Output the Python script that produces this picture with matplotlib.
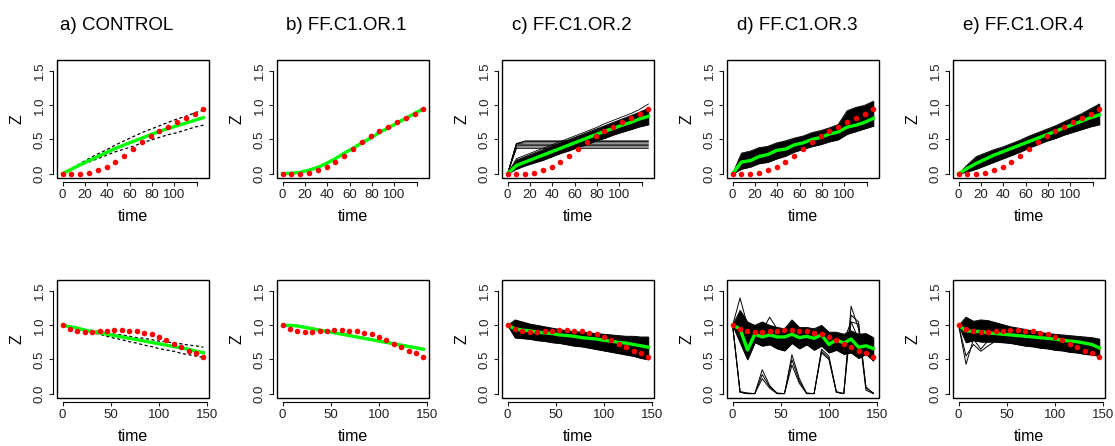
import matplotlib
matplotlib.use('Agg')
import matplotlib.pyplot as plt
from matplotlib.patches import Rectangle

plt.rcParams['font.family'] = ['Liberation Sans', 'DejaVu Sans']

# --- data ---
titles = ['a) CONTROL', 'b) FF.C1.OR.1', 'c) FF.C1.OR.2', 'd) FF.C1.OR.3', 'e) FF.C1.OR.4']

# top row (17 time points) / bottom row (20 time points)
t_top = [0, 7.9, 15.8, 23.6, 31.5, 39.4, 47.3, 55.1, 63, 70.9, 78.8, 86.6, 94.5, 102.4, 110.3, 118.1, 126]
t_bot = [0, 7.7, 15.4, 23, 30.7, 38.4, 46.1, 53.8, 61.5, 69.2, 76.8, 84.5, 92.2, 99.9, 107.6, 115.3,
         122.9, 130.6, 138.3, 146]

obs_top = [0, 0, 0, 0.01, 0.05, 0.10, 0.17, 0.26, 0.36, 0.46, 0.55, 0.62, 0.69, 0.75, 0.82, 0.88, 0.95]
obs_bot = [1.0, 0.95, 0.91, 0.90, 0.90, 0.91, 0.92, 0.93, 0.93, 0.92, 0.91, 0.89, 0.87, 0.83, 0.78,
           0.73, 0.68, 0.63, 0.59, 0.53]

# a) control: mean and dashed bounds
a_top_mean = [0, 0.065, 0.13, 0.19, 0.25, 0.31, 0.37, 0.42, 0.47, 0.52, 0.57, 0.62, 0.66, 0.70, 0.74, 0.78, 0.82]
a_top_hi = [0, 0.07, 0.15, 0.22, 0.29, 0.35, 0.42, 0.48, 0.54, 0.60, 0.65, 0.70, 0.75, 0.80, 0.84, 0.89, 0.93]
a_top_lo = [0, 0.06, 0.12, 0.17, 0.22, 0.27, 0.32, 0.36, 0.40, 0.45, 0.49, 0.53, 0.57, 0.60, 0.64, 0.68, 0.71]
a_bot_mean = [1.0, 0.98, 0.96, 0.93, 0.91, 0.89, 0.87, 0.85, 0.83, 0.81, 0.79, 0.77, 0.75, 0.73, 0.71,
              0.69, 0.67, 0.65, 0.62, 0.60]
a_bot_hi = [1.0, 0.98, 0.96, 0.94, 0.92, 0.91, 0.89, 0.87, 0.86, 0.84, 0.82, 0.81, 0.79, 0.77, 0.76,
            0.74, 0.73, 0.71, 0.70, 0.68]
a_bot_lo = [1.0, 0.97, 0.95, 0.92, 0.89, 0.87, 0.84, 0.81, 0.79, 0.76, 0.74, 0.71, 0.69, 0.66, 0.64,
            0.62, 0.59, 0.57, 0.55, 0.53]

# b) ensemble is very tight around the mean
b_top_mean = [0, 0.005, 0.02, 0.05, 0.09, 0.15, 0.22, 0.30, 0.37, 0.45, 0.52, 0.60, 0.67, 0.74, 0.81, 0.88, 0.95]
b_top_hi = [0, 0.01, 0.03, 0.065, 0.105, 0.165, 0.235, 0.315, 0.385, 0.465, 0.535, 0.615, 0.685, 0.755,
            0.825, 0.895, 0.965]
b_bot_mean = [1.0, 1.0, 0.99, 0.97, 0.95, 0.93, 0.91, 0.89, 0.87, 0.85, 0.83, 0.81, 0.79, 0.77, 0.75,
              0.73, 0.71, 0.69, 0.67, 0.65]
b_bot_hi = [1.0, 1.01, 1.005, 0.985, 0.965, 0.945, 0.925, 0.905, 0.885, 0.865, 0.845, 0.825, 0.805, 0.785,
            0.765, 0.745, 0.725, 0.705, 0.685, 0.665]

# c) ensemble envelope, mean, outliers
c_top_mean = [0, 0.12, 0.17, 0.22, 0.27, 0.32, 0.37, 0.42, 0.47, 0.52, 0.57, 0.62, 0.66, 0.71, 0.75, 0.80, 0.84]
c_top_hi = [0, 0.20, 0.25, 0.30, 0.35, 0.40, 0.45, 0.50, 0.55, 0.60, 0.65, 0.70, 0.75, 0.80, 0.85, 0.90, 0.96]
c_top_lo = [0, 0.07, 0.12, 0.16, 0.20, 0.25, 0.30, 0.34, 0.39, 0.43, 0.48, 0.52, 0.57, 0.61, 0.65, 0.69, 0.72]
c_top_out = [0, 0.22, 0.27, 0.32, 0.37, 0.42, 0.47, 0.52, 0.57, 0.62, 0.67, 0.73, 0.78, 0.83, 0.88, 0.94, 1.02]
c_top_flat = [0.37, 0.39, 0.41, 0.43, 0.45, 0.47, 0.48]
c_bot_mean = [1.0, 0.95, 0.93, 0.92, 0.90, 0.89, 0.88, 0.86, 0.85, 0.84, 0.82, 0.81, 0.80, 0.78, 0.77,
              0.75, 0.74, 0.72, 0.70, 0.68]
c_bot_hi = [1.0, 1.08, 1.05, 1.02, 1.0, 0.98, 0.96, 0.94, 0.92, 0.91, 0.90, 0.89, 0.88, 0.87, 0.86,
            0.85, 0.84, 0.84, 0.83, 0.83]
c_bot_lo = [1.0, 0.82, 0.81, 0.80, 0.78, 0.77, 0.75, 0.74, 0.72, 0.70, 0.69, 0.67, 0.65, 0.63, 0.61,
            0.59, 0.57, 0.55, 0.52, 0.50]

# d)
d_top_mean = [0, 0.17, 0.19, 0.25, 0.28, 0.34, 0.36, 0.42, 0.45, 0.50, 0.53, 0.58, 0.61, 0.68, 0.71, 0.75, 0.81]
d_top_hi = [0, 0.30, 0.33, 0.38, 0.40, 0.45, 0.48, 0.52, 0.55, 0.60, 0.63, 0.67, 0.72, 0.92, 0.97, 1.00, 1.06]
d_top_lo = [0, 0.07, 0.10, 0.15, 0.17, 0.22, 0.26, 0.32, 0.36, 0.40, 0.43, 0.47, 0.50, 0.58, 0.62, 0.66, 0.70]
d_bot_mean = [1.0, 0.95, 0.64, 0.87, 0.83, 0.86, 0.83, 0.83, 0.87, 0.82, 0.84, 0.81, 0.86, 0.72, 0.79,
              0.74, 0.80, 0.68, 0.70, 0.66]
d_bot_hi = [1.0, 1.22, 1.05, 1.0, 1.05, 1.0, 0.97, 0.95, 1.08, 0.97, 0.97, 0.95, 1.0, 0.90, 0.90,
            0.87, 0.92, 0.87, 0.88, 0.82]
d_bot_lo = [1.0, 0.75, 0.50, 0.75, 0.70, 0.72, 0.66, 0.63, 0.74, 0.66, 0.72, 0.64, 0.70, 0.60, 0.64,
            0.58, 0.60, 0.52, 0.58, 0.48]
d_bot_out = [
    [1.0, 1.40, 1.0, 0.97, 0.92, 1.12, 0.95, 0.85, 1.0, 0.90, 0.93, 0.85, 0.95, 0.80, 0.85, 0.78, 1.05, 0.80, 0.83, 0.75],
    [1.0, 0.02, 0.0, 0.0, 0.35, 0.12, 0.0, 0.0, 0.57, 0.22, 0.0, 0.0, 0.65, 0.55, 0.03, 0.0, 1.05, 1.02, 0.10, 0.0],
    [1.0, 0.02, 0.0, 0.0, 0.22, 0.08, 0.0, 0.0, 0.42, 0.15, 0.0, 0.0, 0.60, 0.50, 0.02, 0.0, 1.28, 0.95, 0.05, 0.0],
    [1.0, 0.03, 0.01, 0.0, 0.28, 0.10, 0.01, 0.0, 0.50, 0.18, 0.01, 0.0, 0.62, 0.52, 0.02, 0.0, 1.15, 1.05, 0.08, 0.01],
]

# e)
e_top_mean = [0, 0.08, 0.15, 0.21, 0.27, 0.32, 0.37, 0.42, 0.47, 0.52, 0.57, 0.62, 0.67, 0.72, 0.77, 0.82, 0.86]
e_top_hi = [0, 0.13, 0.25, 0.30, 0.35, 0.39, 0.44, 0.49, 0.55, 0.60, 0.65, 0.70, 0.76, 0.82, 0.88, 0.95, 1.02]
e_top_lo = [0, 0.03, 0.07, 0.12, 0.17, 0.22, 0.27, 0.32, 0.38, 0.43, 0.48, 0.52, 0.57, 0.61, 0.65, 0.69, 0.72]
e_bot_mean = [1.0, 0.92, 0.91, 0.91, 0.89, 0.88, 0.87, 0.86, 0.85, 0.84, 0.83, 0.82, 0.81, 0.80, 0.78,
              0.77, 0.76, 0.74, 0.72, 0.67]
e_bot_hi = [1.0, 1.12, 1.06, 1.08, 1.07, 1.04, 1.01, 0.98, 0.96, 0.94, 0.92, 0.90, 0.88, 0.87, 0.86,
            0.85, 0.84, 0.83, 0.82, 0.80]
e_bot_lo = [1.0, 0.75, 0.78, 0.76, 0.76, 0.76, 0.75, 0.74, 0.72, 0.70, 0.69, 0.67, 0.66, 0.64, 0.63,
            0.61, 0.60, 0.58, 0.57, 0.55]
e_bot_out = [
    [1.0, 0.43, 0.80, 0.65, 0.78, 0.80],
    [1.0, 0.55, 0.72, 0.62, 0.70, 0.77],
]

# --- layout (pixels of a 1115x446 figure) ---
W, H = 1115, 446
lefts = [57, 277, 502, 727, 953]
title_x = [117, 346, 572, 797, 1023]
tops = [60, 280]
aw, ah = 152, 118

fig = plt.figure(figsize=(W / 100, H / 100), dpi=100)


def make_axes(left, top, bottom_row):
    ax = fig.add_axes([left / W, 1 - (top + ah) / H, aw / W, ah / H])
    xmax = t_bot[-1] if bottom_row else t_top[-1]
    ax.set_xlim(-0.04 * xmax, 1.04 * xmax)
    ax.set_ylim(-0.064, 1.664)
    ax.add_patch(Rectangle((0, 0), 1, 1, transform=ax.transAxes, fill=False,
                           lw=1.0, ec='black', clip_on=False, zorder=5))
    for s in ['top', 'right']:
        ax.spines[s].set_visible(False)
    for s in ['left', 'bottom']:
        ax.spines[s].set_position(('outward', 3))
        ax.spines[s].set_linewidth(0.8)
    if bottom_row:
        ax.set_xticks([0, 50, 100, 150], ['0', '50', '100', '150'])
        ax.spines['bottom'].set_bounds(0, 150)
    else:
        ax.set_xticks([0, 20, 40, 60, 80, 100, 120], ['0', '20', '40', '60', '80', '100', ''])
        ax.spines['bottom'].set_bounds(0, 120)
    ax.set_yticks([0, 0.5, 1.0, 1.5], ['0.0', '0.5', '1.0', '1.5'], rotation=90, va='center')
    ax.spines['left'].set_bounds(0, 1.5)
    ax.tick_params(direction='out', length=3, width=0.8, labelsize=9.5, pad=2, colors='#222222')
    ax.annotate('time', xy=(0.5, 0), xycoords='axes fraction', xytext=(0, -28),
                textcoords='offset points', ha='center', va='center', fontsize=11.5)
    ax.annotate('Z', xy=(0, 0.5), xycoords='axes fraction', xytext=(-29, 0),
                textcoords='offset points', ha='center', va='center', fontsize=11.5, rotation=90)
    return ax


def band(ax, t, lo, hi):
    ax.fill_between(t, lo, hi, color='black', lw=0.6)
    ax.plot(t, lo, color='black', lw=0.6)
    ax.plot(t, hi, color='black', lw=0.6)


def finish(ax, t, mean, obs):
    ax.plot(t, mean, color='#00ff00', lw=2.4, zorder=3)
    ax.plot(t, obs, 'o', color='red', ms=4, mec='none', zorder=4)


axes = [[make_axes(lefts[j], tops[i], i == 1) for j in range(5)] for i in range(2)]

for j, title in enumerate(titles):
    fig.text(title_x[j] / W, 1 - 25 / H, title, ha='center', va='center', fontsize=13.5)

# a) control
ax = axes[0][0]
ax.plot(t_top, a_top_hi, 'k--', lw=0.9, dashes=(2.5, 2))
ax.plot(t_top, a_top_lo, 'k--', lw=0.9, dashes=(2.5, 2))
finish(ax, t_top, a_top_mean, obs_top)
ax = axes[1][0]
ax.plot(t_bot, a_bot_hi, 'k--', lw=0.9, dashes=(2.5, 2))
ax.plot(t_bot, a_bot_lo, 'k--', lw=0.9, dashes=(2.5, 2))
finish(ax, t_bot, a_bot_mean, obs_bot)

# b)
ax = axes[0][1]
ax.plot(t_top, b_top_hi, color='black', lw=0.6, dashes=(2, 2))
finish(ax, t_top, b_top_mean, obs_top)
ax = axes[1][1]
ax.plot(t_bot, b_bot_hi, color='black', lw=0.6, dashes=(2, 2))
finish(ax, t_bot, b_bot_mean, obs_bot)

# c)
ax = axes[0][2]
for lev in c_top_flat:
    ax.plot(t_top, [0, min(lev, 0.44)] + [lev] * (len(t_top) - 2), color='black', lw=0.6)
band(ax, t_top, c_top_lo, c_top_hi)
ax.plot(t_top, c_top_out, color='black', lw=0.6)
finish(ax, t_top, c_top_mean, obs_top)
ax = axes[1][2]
band(ax, t_bot, c_bot_lo, c_bot_hi)
finish(ax, t_bot, c_bot_mean, obs_bot)

# d)
ax = axes[0][3]
band(ax, t_top, d_top_lo, d_top_hi)
finish(ax, t_top, d_top_mean, obs_top)
ax = axes[1][3]
band(ax, t_bot, d_bot_lo, d_bot_hi)
for line in d_bot_out:
    ax.plot(t_bot, line, color='black', lw=0.7)
finish(ax, t_bot, d_bot_mean, obs_bot)

# e)
ax = axes[0][4]
band(ax, t_top, e_top_lo, e_top_hi)
finish(ax, t_top, e_top_mean, obs_top)
ax = axes[1][4]
band(ax, t_bot, e_bot_lo, e_bot_hi)
for line in e_bot_out:
    ax.plot(t_bot[:len(line)], line, color='black', lw=0.7)
finish(ax, t_bot, e_bot_mean, obs_bot)

fig.savefig('out.png', dpi=100)
